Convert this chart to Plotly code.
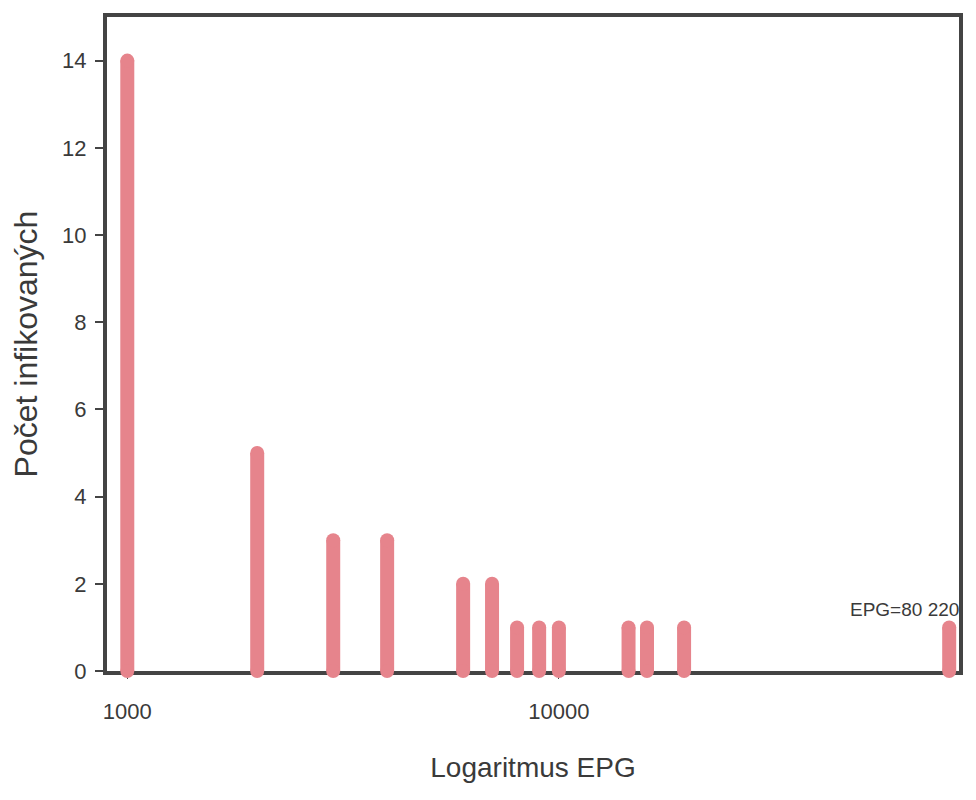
import math
import plotly.graph_objects as go

# EPG values (log x axis) and number of infected animals
epg = [1000, 2000, 3000, 4000, 6000, 7000, 8000, 9000, 10000, 14500, 16000, 19500, 80220]
pocet = [14, 5, 3, 3, 2, 2, 1, 1, 1, 1, 1, 1, 1]

x_ticks = [1000, 10000]
x_ticktext = ["1000", "10000"]
y_ticks = [0, 2, 4, 6, 8, 10, 12, 14]

bar_color = "#E6848C"
frame_color = "#444444"
text_color = "#3a3a3a"

# each bar is a thick vertical segment, markers give the rounded ends
xs, ys = [], []
for x, v in zip(epg, pocet):
    xs += [x, x, None]
    ys += [0, v, None]

fig = go.Figure()
fig.add_trace(go.Scatter(
    x=xs, y=ys,
    mode="lines+markers",
    line=dict(color=bar_color, width=14),
    marker=dict(color=bar_color, size=14, line=dict(width=0)),
    cliponaxis=False,
    showlegend=False,
    hoverinfo="skip",
))

fig.add_annotation(
    x=math.log10(epg[-1]), y=pocet[-1],
    text="EPG=80 220",
    showarrow=False,
    xanchor="right", yanchor="bottom",
    xshift=12, yshift=5,
    font=dict(size=19, color=text_color),
)

# page body adds 8px around the figure, so the figure is 960x784
fig.update_layout(
    width=960, height=784,
    margin=dict(l=99, r=5, t=7, b=121),
    paper_bgcolor="white", plot_bgcolor="white",
    font=dict(family="Liberation Sans, Arial, sans-serif", color=text_color),
)
fig.update_xaxes(
    type="log",
    range=[2.953, 4.927],
    tickvals=x_ticks, ticktext=x_ticktext,
    ticks="outside", ticklen=4, tickwidth=1, tickcolor=frame_color,
    tickfont=dict(size=22),
    ticklabelstandoff=14,
    showgrid=False, zeroline=False,
    showline=True, linewidth=4, linecolor=frame_color, mirror=True,
    layer="below traces",
    title=dict(text="Logaritmus EPG", font=dict(size=28), standoff=35),
)
fig.update_yaxes(
    range=[0, 15],
    tickvals=y_ticks,
    ticks="outside", ticklen=8, tickwidth=1.5, tickcolor=frame_color,
    tickfont=dict(size=22),
    ticklabelstandoff=4,
    showgrid=False, zeroline=False,
    showline=True, linewidth=4, linecolor=frame_color, mirror=True,
    layer="below traces",
    title=dict(text="Počet infikovaných", font=dict(size=32), standoff=20),
)

fig.write_html("out.html")
